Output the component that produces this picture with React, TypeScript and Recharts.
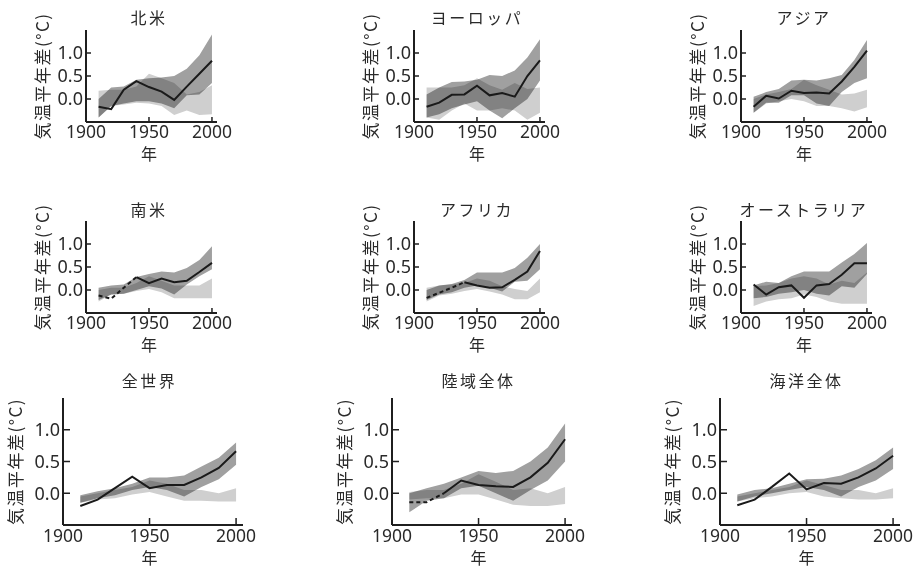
import React from 'react';
import { ComposedChart, Area, Line, XAxis, YAxis } from 'recharts';

const years = [1910, 1920, 1930, 1940, 1950, 1960, 1970, 1980, 1990, 2000];
const xTicks = [1900, 1950, 2000];
const yTicks = [0, 0.5, 1.0];
const yLabel = '気温平年差(°C)';
const xLabel = '年';

// 北米
const naObs = [-0.17, -0.22, 0.2, 0.39, 0.26, 0.16, -0.02, 0.27, 0.55, 0.83];
const naAllHi = [0.0, 0.25, 0.27, 0.42, 0.45, 0.47, 0.5, 0.66, 0.95, 1.4];
const naAllLo = [-0.4, -0.15, -0.1, -0.05, -0.05, -0.1, -0.2, 0.08, 0.1, 0.35];
const naNatHi = [0.18, 0.2, 0.2, 0.27, 0.55, 0.45, 0.35, 0.1, 0.15, 0.3];
const naNatLo = [-0.4, -0.15, -0.12, -0.08, -0.1, -0.15, -0.35, -0.25, -0.35, -0.33];

// ヨーロッパ
const euObs = [-0.17, -0.08, 0.09, 0.1, 0.29, 0.08, 0.13, 0.05, 0.5, 0.84];
const euAllHi = [0.1, 0.25, 0.37, 0.38, 0.42, 0.52, 0.5, 0.62, 0.9, 1.3];
const euAllLo = [-0.4, -0.33, -0.2, -0.12, -0.05, -0.25, -0.42, -0.2, 0.0, 0.4];
const euNatHi = [0.25, 0.25, 0.25, 0.3, 0.45, 0.3, 0.2, 0.35, 0.22, 0.25];
const euNatLo = [-0.4, -0.45, -0.25, -0.1, -0.25, -0.25, -0.2, -0.25, -0.45, -0.3];

// アジア
const asObs = [-0.17, 0.07, 0.01, 0.18, 0.13, 0.14, 0.12, 0.38, 0.7, 1.05];
const asAllHi = [0.05, 0.15, 0.22, 0.4, 0.42, 0.4, 0.45, 0.52, 0.85, 1.28];
const asAllLo = [-0.3, -0.08, -0.08, 0.08, 0.08, -0.1, -0.15, 0.15, 0.35, 0.45];
const asNatHi = [0.0, 0.1, 0.15, 0.22, 0.42, 0.3, 0.2, 0.1, 0.12, 0.2];
const asNatLo = [-0.3, -0.1, -0.05, 0.0, -0.05, -0.15, -0.15, -0.2, -0.27, -0.18];

// 南米
const saObs = [-0.12, -0.19, 0.05, 0.28, 0.15, 0.25, 0.17, 0.2, 0.39, 0.59];
const saAllHi = [0.05, 0.1, 0.12, 0.28, 0.35, 0.4, 0.38, 0.48, 0.65, 0.95];
const saAllLo = [-0.22, -0.1, -0.08, 0.0, 0.08, 0.03, -0.1, 0.12, 0.3, 0.45];
const saNatHi = [0.0, 0.05, 0.05, 0.15, 0.3, 0.2, 0.1, 0.1, 0.1, 0.25];
const saNatLo = [-0.25, -0.1, -0.08, -0.02, 0.02, -0.05, -0.18, -0.18, -0.18, -0.18];

// アフリカ
const afObs = [-0.17, -0.06, 0.05, 0.17, 0.1, 0.05, 0.06, 0.22, 0.4, 0.85];
const afAllHi = [0.0, 0.1, 0.13, 0.22, 0.38, 0.38, 0.38, 0.48, 0.7, 1.0];
const afAllLo = [-0.22, -0.1, -0.05, 0.05, 0.1, 0.05, -0.03, 0.18, 0.2, 0.45];
const afNatHi = [0.05, 0.1, 0.12, 0.15, 0.25, 0.2, 0.08, 0.02, -0.02, 0.25];
const afNatLo = [-0.25, -0.12, -0.08, -0.02, 0.02, -0.03, -0.1, -0.2, -0.2, -0.05];

// オーストラリア
const auObs = [0.12, -0.1, 0.06, 0.1, -0.17, 0.1, 0.13, 0.33, 0.58, 0.58];
const auAllHi = [0.1, 0.18, 0.15, 0.3, 0.4, 0.4, 0.4, 0.6, 0.78, 1.02];
const auAllLo = [-0.18, -0.15, -0.08, -0.05, 0.0, -0.08, -0.12, 0.08, 0.05, 0.35];
const auNatHi = [0.08, 0.1, 0.15, 0.25, 0.3, 0.25, 0.12, 0.2, 0.15, 0.38];
const auNatLo = [-0.35, -0.25, -0.2, -0.18, -0.1, -0.15, -0.25, -0.3, -0.3, -0.3];

// 全世界
const glObs = [-0.2, -0.1, 0.08, 0.26, 0.08, 0.13, 0.13, 0.25, 0.4, 0.66];
const glAllHi = [-0.03, 0.03, 0.08, 0.15, 0.25, 0.25, 0.28, 0.42, 0.56, 0.8];
const glAllLo = [-0.15, -0.08, -0.03, 0.05, 0.1, 0.05, -0.05, 0.1, 0.22, 0.45];
const glNatHi = [-0.05, 0.0, 0.05, 0.1, 0.2, 0.15, 0.05, 0.05, 0.0, 0.08];
const glNatLo = [-0.15, -0.1, -0.08, -0.02, 0.02, -0.05, -0.12, -0.12, -0.13, -0.13];

// 陸域全体
const ldObs = [-0.14, -0.14, 0.0, 0.2, 0.13, 0.11, 0.1, 0.25, 0.48, 0.85];
const ldAllHi = [0.0, 0.08, 0.15, 0.25, 0.35, 0.32, 0.35, 0.5, 0.72, 1.1];
const ldAllLo = [-0.3, -0.12, -0.08, 0.08, 0.12, 0.0, -0.12, 0.05, 0.2, 0.5];
const ldNatHi = [0.02, 0.05, 0.05, 0.15, 0.3, 0.18, 0.05, 0.08, 0.0, 0.1];
const ldNatLo = [-0.1, -0.08, -0.08, -0.02, -0.02, -0.1, -0.18, -0.2, -0.2, -0.17];

// 海洋全体
const ocObs = [-0.19, -0.1, 0.1, 0.31, 0.06, 0.16, 0.15, 0.25, 0.39, 0.59];
const ocAllHi = [-0.02, 0.05, 0.08, 0.15, 0.22, 0.23, 0.28, 0.38, 0.52, 0.72];
const ocAllLo = [-0.13, -0.05, 0.0, 0.05, 0.1, 0.05, -0.05, 0.1, 0.2, 0.38];
const ocNatHi = [-0.05, 0.0, 0.05, 0.1, 0.2, 0.13, 0.05, 0.05, 0.0, 0.08];
const ocNatLo = [-0.13, -0.08, -0.05, 0.0, 0.02, -0.05, -0.08, -0.1, -0.1, -0.08];

type Panel = {
  title: string;
  obs: number[];
  allLo: number[];
  allHi: number[];
  natLo: number[];
  natHi: number[];
  dashUntil: number; // index of last dashed point, -1 = none
};

const panels: Panel[] = [
  { title: '北米', obs: naObs, allLo: naAllLo, allHi: naAllHi, natLo: naNatLo, natHi: naNatHi, dashUntil: -1 },
  { title: 'ヨーロッパ', obs: euObs, allLo: euAllLo, allHi: euAllHi, natLo: euNatLo, natHi: euNatHi, dashUntil: -1 },
  { title: 'アジア', obs: asObs, allLo: asAllLo, allHi: asAllHi, natLo: asNatLo, natHi: asNatHi, dashUntil: -1 },
  { title: '南米', obs: saObs, allLo: saAllLo, allHi: saAllHi, natLo: saNatLo, natHi: saNatHi, dashUntil: 3 },
  { title: 'アフリカ', obs: afObs, allLo: afAllLo, allHi: afAllHi, natLo: afNatLo, natHi: afNatHi, dashUntil: 3 },
  { title: 'オーストラリア', obs: auObs, allLo: auAllLo, allHi: auAllHi, natLo: auNatLo, natHi: auNatHi, dashUntil: -1 },
  { title: '全世界', obs: glObs, allLo: glAllLo, allHi: glAllHi, natLo: glNatLo, natHi: glNatHi, dashUntil: -1 },
  { title: '陸域全体', obs: ldObs, allLo: ldAllLo, allHi: ldAllHi, natLo: ldNatLo, natHi: ldNatHi, dashUntil: 2 },
  { title: '海洋全体', obs: ocObs, allLo: ocAllLo, allHi: ocAllHi, natLo: ocNatLo, natHi: ocNatHi, dashUntil: -1 },
];

// layout (page coordinates of each plot area)
const rowTops = [30, 221, 398];
const rowHeights = [92, 92, 127];
const rowLefts = [[86, 414, 741], [86, 414, 741], [63, 392, 720]];
const rowWidths = [131, 131, 180];
const rowTickLen = [5, 5, 7];
const rowYLabelGap = [43, 43, 47];
const rowTitleOffset = [13, 12, 18];
const rowXTickOffset = [10, 10, 11];
const rowXLabelOffset = [32, 32, 33];

const L = 70;
const T = 30;
const R = 30;
const B = 50;

const CJK = '"Noto Sans CJK JP", "Noto Sans", sans-serif';
const NUM = '"Noto Sans", "Liberation Sans", sans-serif';
const TEXT = '#2a2a2a';
const AXIS = '#1f1f1f';

function buildRows(p: Panel) {
  return years.map((year, i) => ({
    year,
    nat: [p.natLo[i], p.natHi[i]],
    all: [p.allLo[i], p.allHi[i]],
    solid: i >= p.dashUntil ? p.obs[i] : null,
    dashed: p.dashUntil >= 0 && i <= p.dashUntil ? p.obs[i] : null,
  }));
}

function Chart({ p, row, col }: { p: Panel; row: number; col: number }) {
  const w = rowWidths[row];
  const h = rowHeights[row];
  const left = rowLefts[row][col];
  const top = rowTops[row];
  const tickLen = rowTickLen[row];
  const bottomY = T + h;
  const data = buildRows(p);
  const xPos = (v: number) => L + ((v - 1900) / 104) * w;

  const yTick = (props: any) => {
    const { y, payload } = props;
    return (
      <g>
        <line x1={L} x2={L + tickLen} y1={y} y2={y} stroke={AXIS} strokeWidth={1.5} />
        <text x={L - 3} y={y} dy="0.36em" textAnchor="end" fontFamily={NUM} fontSize={18} fill={TEXT}>
          {Number(payload.value).toFixed(1)}
        </text>
      </g>
    );
  };
  const xTick = (props: any) => {
    const { x, payload } = props;
    return (
      <g>
        <line x1={x} x2={x} y1={bottomY} y2={bottomY - tickLen} stroke={AXIS} strokeWidth={1.5} />
        <text
          x={x}
          y={bottomY + rowXTickOffset[row]}
          dy="0.36em"
          textAnchor="middle"
          fontFamily={NUM}
          fontSize={17.5}
          fill={TEXT}
        >
          {payload.value}
        </text>
      </g>
    );
  };
  const yLab = () => {
    const cx = L - rowYLabelGap[row];
    const cy = T + h / 2;
    return (
      <text
        x={cx}
        y={cy}
        transform={`rotate(-90 ${cx} ${cy})`}
        dy="0.36em"
        textAnchor="middle"
        fontFamily={CJK}
        fontSize={17}
        letterSpacing={1.5}
        fill={TEXT}
      >
        {yLabel}
      </text>
    );
  };
  const xLab = () => (
    <text
      x={xPos(1950)}
      y={bottomY + rowXLabelOffset[row]}
      dy="0.38em"
      textAnchor="middle"
      fontFamily={CJK}
      fontSize={16}
      fill={TEXT}
    >
      {xLabel}
    </text>
  );

  const chartW = L + w + R;
  const chartH = T + h + B;
  return (
    <div style={{ position: 'absolute', left: left - L, top: top - T, width: chartW, height: chartH }}>
      <div
        style={{
          position: 'absolute',
          left: xPos(1950) - 100,
          width: 200,
          top: T - rowTitleOffset[row] - 12,
          height: 24,
          lineHeight: '24px',
          textAlign: 'center',
          fontFamily: CJK,
          fontSize: 16,
          letterSpacing: '2.5px',
          color: TEXT,
          whiteSpace: 'nowrap',
          zIndex: 1,
        }}
      >
        {p.title}
      </div>
      <ComposedChart
        width={chartW}
        height={chartH}
        data={data}
        margin={{ top: T, right: R, bottom: 0, left: 0 }}
        style={{ position: 'absolute', left: 0, top: 0 }}
      >
        <XAxis
          dataKey="year"
          type="number"
          domain={[1900, 2004]}
          ticks={xTicks}
          height={B}
          tick={xTick}
          tickLine={false}
          axisLine={{ stroke: AXIS, strokeWidth: 2 }}
          interval={0}
          label={xLab}
        />
        <YAxis
          type="number"
          domain={[-0.5, 1.5]}
          ticks={yTicks}
          width={L}
          tick={yTick}
          tickLine={false}
          axisLine={{ stroke: AXIS, strokeWidth: 2 }}
          interval={0}
          label={yLab}
        />
        <Area
          dataKey="nat"
          type="linear"
          stroke="none"
          fill="#cfcfcf"
          fillOpacity={1}
          isAnimationActive={false}
          activeDot={false}
        />
        <Area
          dataKey="all"
          type="linear"
          stroke="none"
          fill="#a0a0a0"
          fillOpacity={1}
          className="band-all"
          isAnimationActive={false}
          activeDot={false}
        />
        <Line
          dataKey="dashed"
          type="linear"
          stroke="#1a1a1a"
          strokeWidth={2}
          strokeDasharray="4 3"
          dot={false}
          activeDot={false}
          connectNulls={false}
          isAnimationActive={false}
        />
        <Line
          dataKey="solid"
          type="linear"
          stroke="#1a1a1a"
          strokeWidth={2}
          dot={false}
          activeDot={false}
          connectNulls={false}
          isAnimationActive={false}
        />
      </ComposedChart>
    </div>
  );
}

export default function App() {
  return (
    <div style={{ position: 'absolute', left: 0, top: 0, width: 914, height: 569, background: '#fff', overflow: 'hidden' }}>
      <style>{`.band-all path { mix-blend-mode: multiply; }`}</style>
      {panels.map((p, i) => (
        <Chart key={p.title} p={p} row={Math.floor(i / 3)} col={i % 3} />
      ))}
    </div>
  );
}
